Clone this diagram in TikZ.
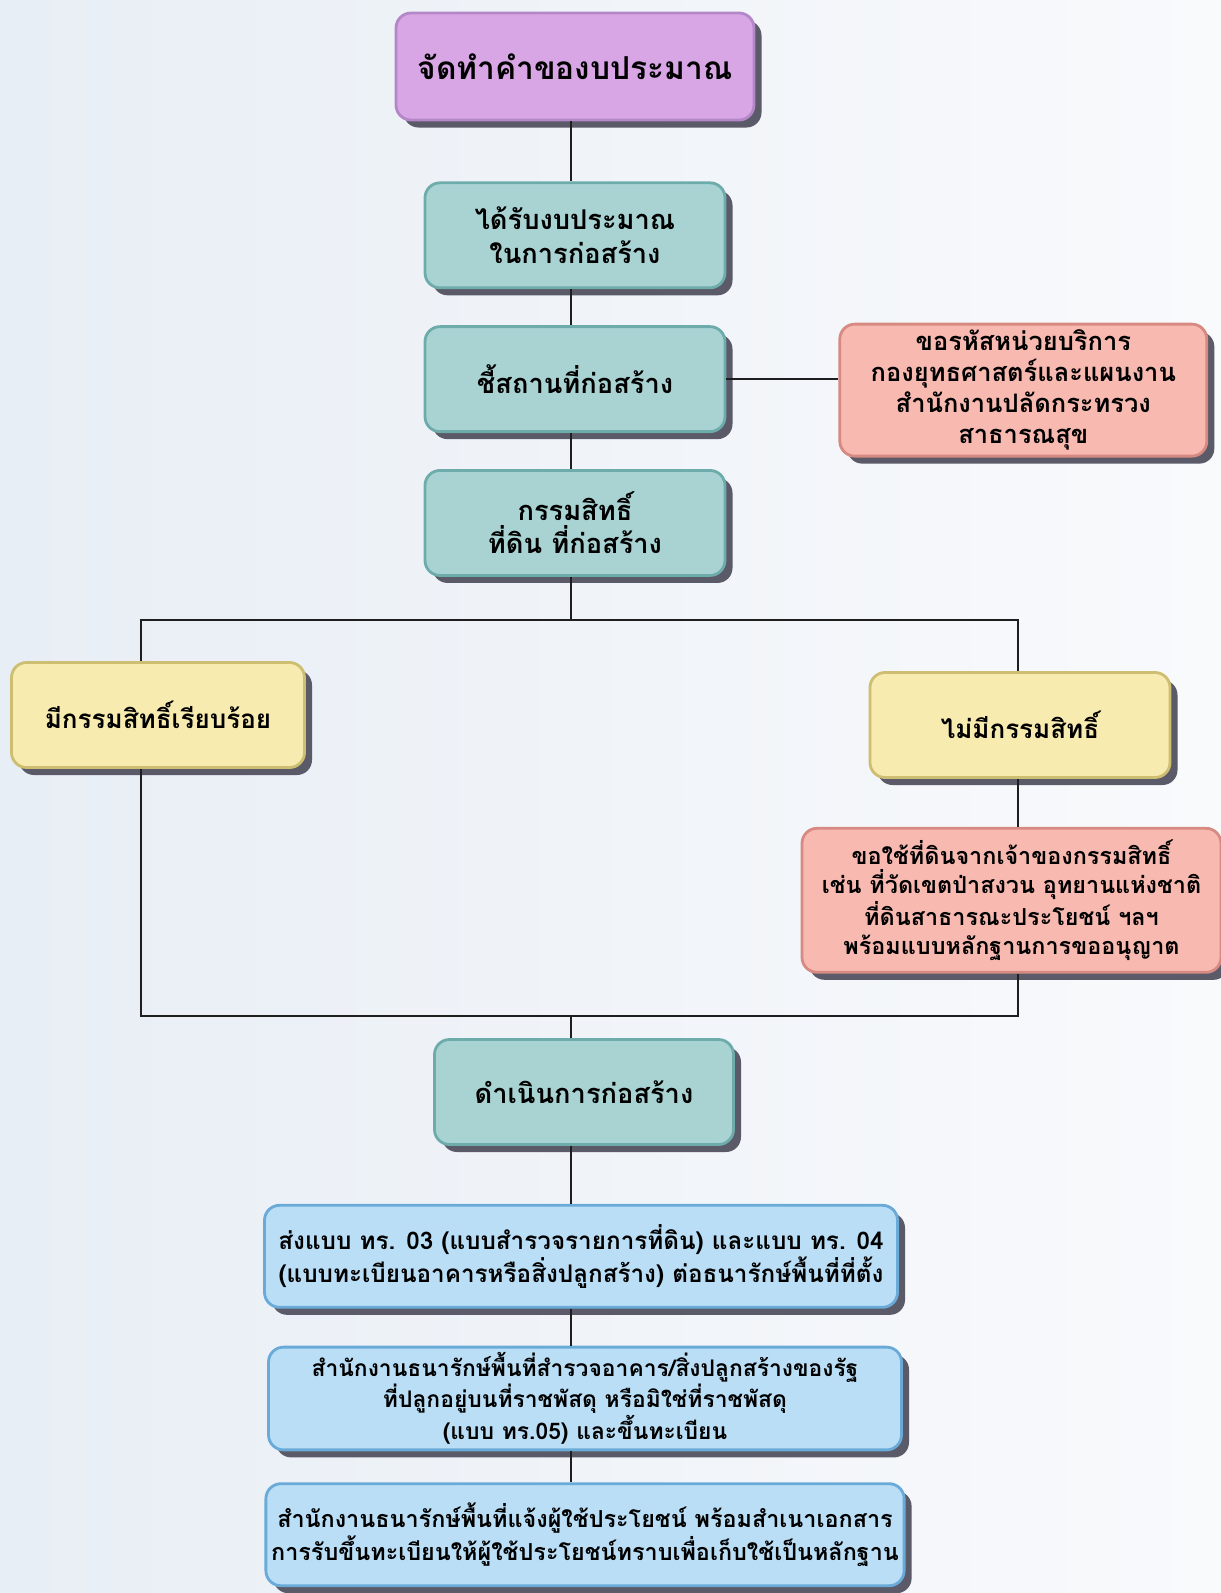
\documentclass[tikz,border=0pt]{standalone}
\usepackage{fontspec}
\setmainfont[Script=Thai]{Loma}
\usepackage{xcolor}
\usepackage{tikz}
\usetikzlibrary{positioning,shadows,calc}
\definecolor{plumfill}{HTML}{D8A6E5}
\definecolor{plumline}{HTML}{B487C8}
\definecolor{tealfill}{HTML}{A9D3D3}
\definecolor{tealline}{HTML}{6EACAC}
\definecolor{rosefill}{HTML}{F8B9B1}
\definecolor{roseline}{HTML}{D68A82}
\definecolor{sandfill}{HTML}{F8EBAF}
\definecolor{sandline}{HTML}{CDBE72}
\definecolor{skyfill}{HTML}{B9DEF6}
\definecolor{skyline}{HTML}{6AAAD8}
\definecolor{shade}{HTML}{5A5A68}
\definecolor{wire}{HTML}{1E1E1E}
\definecolor{bgleft}{HTML}{E8EEF5}
\definecolor{bgright}{HTML}{F9FAFC}
\tikzset{
  flowbox/.style={
    rectangle, rounded corners=0.3cm, draw=#1line, fill=#1fill,
    line width=1.6pt, align=center, inner sep=3pt,
    drop shadow={shadow xshift=0.15cm, shadow yshift=-0.15cm,
                 fill=shade, opacity=1}
  },
  flowbox/.default=teal,
  planbox/.style={flowbox=plum, minimum width=7.16cm, minimum height=2.14cm,
    font=\bfseries\fontsize{18}{22}\selectfont},
  stepbox/.style={flowbox=teal, minimum width=6.0cm, minimum height=2.1cm,
    font=\bfseries\fontsize{15.5}{19}\selectfont},
  notebox/.style={flowbox=rose},
  choicebox/.style={flowbox=sand, minimum height=2.1cm,
    font=\bfseries\fontsize{14.8}{18}\selectfont},
  formbox/.style={flowbox=sky, minimum width=12.66cm, minimum height=2.04cm},
  link/.style={draw=wire, line width=0.9pt},
}

\begin{document}
\begin{tikzpicture}

  % Background
  \fill[left color=bgleft, right color=bgright] (0,0) rectangle (24.42,-31.86);
  \useasboundingbox (0,0) rectangle (24.42,-31.86);
  \coordinate (spine) at (11.42,0);

  % Main column
  \node[planbox] (plan) at (11.5,-1.33) {จัดทำคำของบประมาณ};
  \node[stepbox, below=1.2cm of plan] (fund) {ได้รับงบประมาณ\\ในการก่อสร้าง};
  \node[stepbox, below=0.72cm of fund] (site) {ชี้สถานที่ก่อสร้าง};
  \node[notebox, minimum width=7.34cm, minimum height=2.64cm,
        font=\bfseries\fontsize{14.5}{17.6}\selectfont,
        right=2.24cm of site, yshift=-0.22cm] (code)
        {ขอรหัสหน่วยบริการ\\กองยุทธศาสตร์และแผนงาน\\สำนักงานปลัดกระทรวง\\สาธารณสุข};
  \node[stepbox, below=0.72cm of site] (title) {กรรมสิทธิ์\\ที่ดิน ที่ก่อสร้าง};

  % Branches
  \coordinate (lsplit) at (2.82,-12.4);
  \coordinate (rsplit) at (20.36,-12.4);
  \node[choicebox, minimum width=5.86cm] (have) at (3.16,-14.3) {มีกรรมสิทธิ์เรียบร้อย};
  \node[choicebox, minimum width=6.0cm] (nohave) at (20.4,-14.5) {ไม่มีกรรมสิทธิ์};
  \node[notebox, minimum width=8.38cm, minimum height=2.88cm,
        font=\bfseries\fontsize{13.3}{16.4}\selectfont,
        below=0.96cm of nohave, xshift=-0.17cm] (permit)
        {ขอใช้ที่ดินจากเจ้าของกรรมสิทธิ์\\เช่น ที่วัดเขตป่าสงวน อุทยานแห่งชาติ\\ที่ดินสาธารณะประโยชน์ ฯลฯ\\พร้อมแบบหลักฐานการขออนุญาต};
  \coordinate (lmerge) at (2.82,-20.32);
  \coordinate (rmerge) at (20.36,-20.32);

  % Registration
  \node[stepbox, minimum width=5.98cm] (build) at (11.68,-21.84) {ดำเนินการก่อสร้าง};
  \node[formbox, font=\bfseries\fontsize{13.8}{16.8}\selectfont,
        below=1.16cm of build, xshift=-0.06cm] (sendform)
        {ส่งแบบ ทร. 03 (แบบสำรวจรายการที่ดิน) และแบบ ทร. 04\\(แบบทะเบียนอาคารหรือสิ่งปลูกสร้าง) ต่อธนารักษ์พื้นที่ที่ตั้ง};
  \node[formbox, font=\bfseries\fontsize{13}{15.6}\selectfont,
        below=0.74cm of sendform, xshift=0.08cm] (survey)
        {สำนักงานธนารักษ์พื้นที่สำรวจอาคาร/สิ่งปลูกสร้างของรัฐ\\ที่ปลูกอยู่บนที่ราชพัสดุ หรือมิใช่ที่ราชพัสดุ\\(แบบ ทร.05) และขึ้นทะเบียน};
  \node[formbox, font=\bfseries\fontsize{13.3}{16.4}\selectfont,
        below=0.62cm of survey] (notify)
        {สำนักงานธนารักษ์พื้นที่แจ้งผู้ใช้ประโยชน์ พร้อมสำเนาเอกสาร\\การรับขึ้นทะเบียนให้ผู้ใช้ประโยชน์ทราบเพื่อเก็บใช้เป็นหลักฐาน};

  % Connectors
  \draw[link] (plan.south -| spine) -- (fund.north -| spine);
  \draw[link] (fund.south -| spine) -- (site.north -| spine);
  \draw[link] (site.east) -- (code.west |- site.east);
  \draw[link] (site.south -| spine) -- (title.north -| spine);
  \draw[link] (title.south -| spine) -- (spine |- lsplit);
  \draw[link] (lsplit |- have.north) -- (lsplit) -- (rsplit) -- (rsplit |- nohave.north);
  \draw[link] (nohave.south -| rsplit) -- (permit.north -| rsplit);
  \draw[link] (have.south -| lmerge) -- (lmerge) -- (rmerge) -- (permit.south -| rmerge);
  \draw[link] (spine |- lmerge) -- (build.north -| spine);
  \draw[link] (build.south -| spine) -- (sendform.north -| spine);
  \draw[link] (sendform.south -| spine) -- (survey.north -| spine);
  \draw[link] (survey.south -| spine) -- (notify.north -| spine);
\end{tikzpicture}
\end{document}
